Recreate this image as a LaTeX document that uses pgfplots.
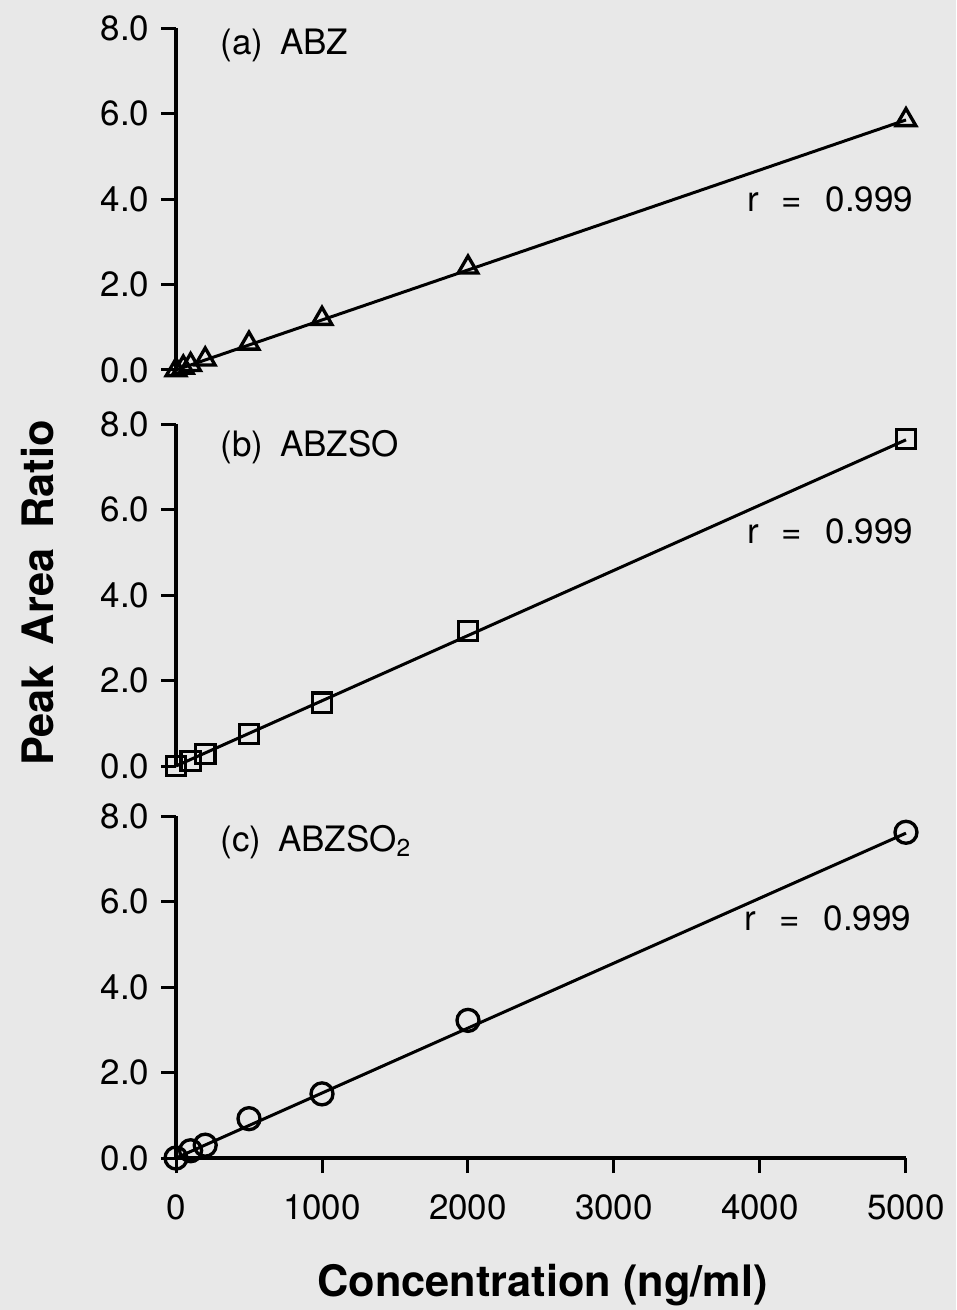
\documentclass[border=0pt]{standalone}
\usepackage{pgfplots}
\pgfplotsset{compat=1.18}
\usepackage{fontspec}
\setmainfont{TeX Gyre Heros}
\definecolor{bg}{RGB}{232,232,232}

\tikzset{note/.style={inner sep=0pt, font=\fontsize{10.5}{12}\selectfont}}

\pgfplotsset{
  panel/.style={
    scale only axis, width=219pt, height=102.6pt,
    xmin=0, xmax=5000, ymin=0, ymax=8,
    clip=false,
    axis y line*=left,
    axis line style={-, line width=1pt},
    ytick={0,2,4,6,8},
    tick align=outside,
    major tick length=4.5pt,
    tick style={line width=0.9pt, black},
    ticklabel style={font=\fontsize{10.5}{12}\selectfont},
    yticklabel style={/pgf/number format/.cd, fixed, fixed zerofill, precision=1, assume math mode=true},
    xticklabel style={yshift=-3pt, /pgf/number format/.cd, 1000 sep={}, assume math mode=true},
  },
  fitline/.style={black, line width=0.9pt, no marks},
  pts/.style={only marks, mark options={draw=black, fill=bg, line width=1pt, solid}},
}

\begin{document}
\begin{tikzpicture}
\path[use as bounding box, fill=bg] (-52.8pt,-282pt) rectangle (234pt,111pt);

% (a) ABZ
\begin{axis}[panel, at={(0,0)}, anchor=south west,
    axis x line=none, xtick=\empty]
  \addplot[fitline] coordinates {(0,0.0) (5000,5.85)};
  \addplot[pts, mark=triangle, mark size=3.4pt] coordinates {
    (0,0.0) (50,0.06) (100,0.12) (200,0.25) (500,0.62) (1000,1.2) (2000,2.4) (5000,5.85)
  };
  \node[note, anchor=west] at (axis cs:301,7.6) {(a)\hspace{5pt}ABZ};
  \node[note, anchor=east] at (axis cs:5055,4.0) {r\hspace{7pt}=\hspace{7pt}0.999};
\end{axis}

% (b) ABZSO
\begin{axis}[panel, at={(0,-118.8pt)}, anchor=south west,
    axis x line=none, xtick=\empty]
  \addplot[fitline] coordinates {(0,0.0) (5000,7.63)};
  \addplot[pts, mark=square, mark size=2.9pt] coordinates {
    (0,0.0) (100,0.12) (200,0.28) (500,0.75) (1000,1.48) (2000,3.16) (5000,7.65)
  };
  \node[note, anchor=west] at (axis cs:301,7.47) {(b)\hspace{5pt}ABZSO};
  \node[note, anchor=east] at (axis cs:5055,5.49) {r\hspace{7pt}=\hspace{7pt}0.999};
\end{axis}

% (c) ABZSO2
\begin{axis}[panel, at={(0,-236.4pt)}, anchor=south west,
    axis x line*=bottom, xtick={0,1000,2000,3000,4000,5000}]
  \addplot[fitline] coordinates {(0,0.0) (5000,7.6)};
  \addplot[pts, mark=o, mark size=3.3pt] coordinates {
    (0,0.0) (100,0.17) (200,0.3) (500,0.92) (1000,1.5) (2000,3.22) (5000,7.62)
  };
  \node[note, anchor=west] at (axis cs:301,7.4) {(c)\hspace{5pt}ABZSO\textsubscript{2}};
  \node[note, anchor=east] at (axis cs:5040,5.6) {r\hspace{7pt}=\hspace{7pt}0.999};
\end{axis}

\node[rotate=90, font=\fontsize{13}{15}\selectfont\bfseries] at (-41.4pt,-66.9pt) {Peak\hspace{6pt}Area\hspace{6pt}Ratio};
\node[font=\fontsize{13}{15}\selectfont\bfseries] at (110pt,-274.5pt) {Concentration (ng/ml)};
\end{tikzpicture}
\end{document}
